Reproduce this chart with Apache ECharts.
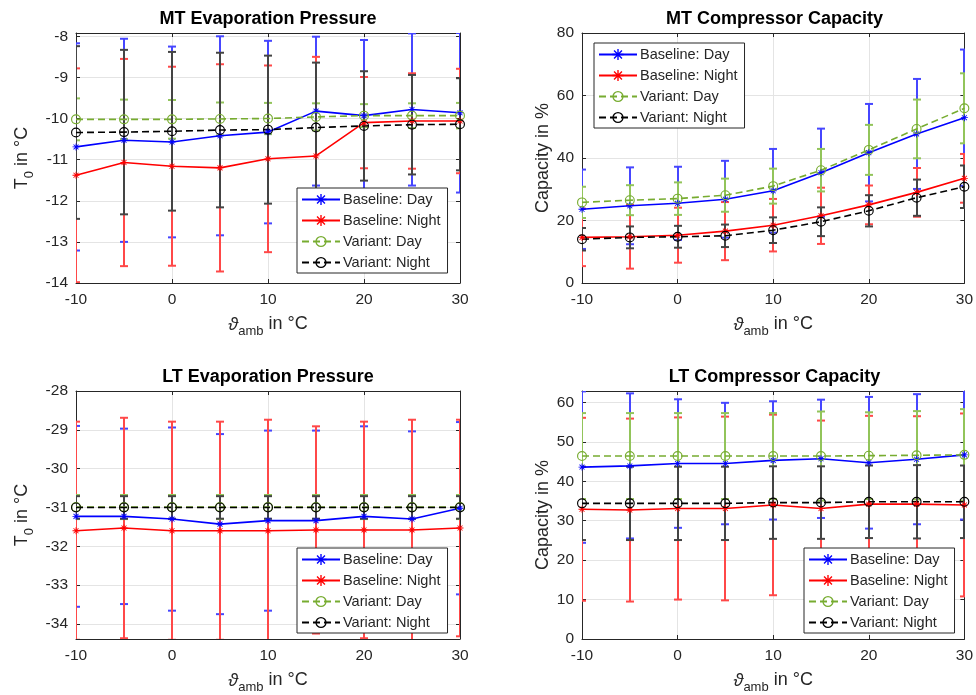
<!DOCTYPE html>
<html>
<head>
<meta charset="utf-8">
<script src="https://cdn.jsdelivr.net/npm/echarts@6.0.0/dist/echarts.min.js"></script>
<style>
  html, body { margin: 0; padding: 0; background: #fff; }
  #chart { width: 976px; height: 695px; }
</style>
</head>
<body>
<div id="chart"></div>
<script>
// Ambient temperature steps (x values, °C)
const ambientTemps = [-10, -5, 0, 5, 10, 15, 20, 25, 30];

// MT evaporation temperature T0 (°C): mean and symmetric error half-width
const mtEvapBaseDay      = [-10.69, -10.53, -10.57, -10.42, -10.33, -9.82, -9.93, -9.78, -9.86];
const mtEvapBaseDayErr   = [2.52, 2.47, 2.32, 2.42, 2.22, 1.81, 1.84, 1.85, 1.94];
const mtEvapBaseNight    = [-11.38, -11.07, -11.16, -11.20, -10.98, -10.91, -10.10, -10.06, -10.06];
const mtEvapBaseNightErr = [2.60, 2.52, 2.42, 2.52, 2.27, 2.41, 1.11, 1.16, 1.27];
const mtEvapVarDay       = [-10.02, -10.02, -10.02, -10.01, -10.00, -9.96, -9.93, -9.93, -9.93];
const mtEvapVarDayErr    = [0.51, 0.48, 0.47, 0.40, 0.38, 0.33, 0.28, 0.30, 0.31];
const mtEvapVarNight     = [-10.34, -10.33, -10.31, -10.28, -10.27, -10.22, -10.18, -10.15, -10.14];
const mtEvapVarNightErr  = [2.10, 2.00, 1.93, 1.88, 1.80, 1.58, 1.33, 1.21, 1.12];

// MT compressor capacity (%)
const mtCapBaseDay       = [23.6, 24.7, 25.5, 26.8, 29.5, 35.3, 41.7, 47.7, 52.9];
const mtCapBaseDayErr    = [12.7, 12.3, 11.7, 12.3, 13.4, 14.1, 15.6, 17.6, 21.8];
const mtCapBaseNight     = [14.6, 14.8, 15.3, 16.6, 18.5, 21.5, 25.0, 29.0, 33.5];
const mtCapBaseNightErr  = [9.2, 10.2, 8.8, 9.3, 8.4, 9.0, 6.2, 7.8, 7.8];
const mtCapVarDay        = [25.8, 26.5, 27.0, 28.1, 31.0, 36.1, 42.6, 49.3, 55.9];
const mtCapVarDayErr     = [5.0, 4.8, 5.2, 5.3, 5.6, 6.8, 8.0, 9.4, 11.2];
const mtCapVarNight      = [14.0, 14.6, 14.8, 15.1, 16.9, 19.6, 23.1, 27.3, 30.8];
const mtCapVarNightErr   = [3.6, 3.5, 3.5, 3.6, 4.1, 4.6, 5.0, 5.8, 6.8];

// LT evaporation temperature T0 (°C)
const ltEvapBaseDay      = [-31.23, -31.23, -31.30, -31.43, -31.34, -31.34, -31.23, -31.30, -31.02];
const ltEvapBaseDayErr   = [2.33, 2.26, 2.36, 2.32, 2.32, 2.32, 2.32, 2.26, 2.22];
const ltEvapBaseNight    = [-31.60, -31.53, -31.60, -31.60, -31.60, -31.58, -31.58, -31.58, -31.53];
const ltEvapBaseNightErr = [2.81, 2.84, 2.81, 2.81, 2.86, 2.67, 2.79, 2.84, 2.79];
const ltEvapVarDay       = [-30.99, -30.99, -30.99, -30.99, -30.99, -30.99, -30.99, -30.99, -30.99];
const ltEvapVarDayErr    = [0.31, 0.31, 0.31, 0.31, 0.31, 0.31, 0.31, 0.31, 0.31];
const ltEvapVarNight     = [-31.00, -31.00, -31.00, -31.00, -31.00, -31.00, -31.00, -31.00, -31.00];
const ltEvapVarNightErr  = [0.29, 0.29, 0.29, 0.29, 0.29, 0.29, 0.29, 0.29, 0.29];

// LT compressor capacity (%)
const ltCapBaseDay       = [43.6, 43.9, 44.5, 44.5, 45.3, 45.7, 44.7, 45.6, 46.7];
const ltCapBaseDayErr    = [19.2, 18.4, 16.3, 15.4, 15.0, 15.0, 16.7, 16.5, 16.4];
const ltCapBaseNight     = [32.9, 32.7, 33.1, 33.1, 34.0, 33.1, 34.2, 34.2, 34.0];
const ltCapBaseNightErr  = [23.2, 23.2, 23.1, 23.3, 22.9, 22.3, 22.4, 22.3, 23.2];
const ltCapVarDay        = [46.4, 46.4, 46.4, 46.4, 46.4, 46.4, 46.5, 46.6, 46.7];
const ltCapVarDayErr     = [10.9, 10.9, 10.9, 10.9, 10.9, 11.3, 11.0, 11.2, 11.6];
const ltCapVarNight      = [34.4, 34.4, 34.4, 34.4, 34.6, 34.6, 34.8, 34.8, 34.8];
const ltCapVarNightErr   = [9.3, 9.3, 9.3, 9.3, 9.2, 9.2, 9.2, 9.3, 9.2];

// Series names shown in every legend
const seriesNames = ['Baseline: Day', 'Baseline: Night', 'Variant: Day', 'Variant: Night'];

// Panel titles and axis labels
const panelTitles = ['MT Evaporation Pressure', 'MT Compressor Capacity', 'LT Evaporation Pressure', 'LT Compressor Capacity'];
const xAxisTitle = '{i|ϑ}{s|amb}{m| in °C}';
const tempAxisTitle = '{m|T}{s|0}{m| in °C}';
const capAxisTitle = '{m|Capacity in %}';

// ---------------- styling / layout ----------------
const FONT = '"Liberation Sans", Arial, Helvetica, sans-serif';
const AXIS_COLOR = '#262626';
const GRID_COLOR = '#e4e4e4';

// MATLAB-like '*' and 'o' markers
const STAR = 'path://M-0.6,-5L0.6,-5L0.6,5L-0.6,5Z M-5,-0.6L5,-0.6L5,0.6L-5,0.6Z M-3.96,-3.11L-3.11,-3.96L3.96,3.11L3.11,3.96Z M3.11,-3.96L3.96,-3.11L-3.11,3.96L-3.96,3.11Z';
const RING = 'path://M0,-5A5,5,0,1,1,0,5A5,5,0,1,1,0,-5Z M0,-3.85A3.85,3.85,0,1,0,0,3.85A3.85,3.85,0,1,0,0,-3.85Z';

const seriesLook = [
  { color: '#0000ff', bar: '#4646ff', dash: 'solid', symbol: STAR, size: 7 },
  { color: '#ff0000', bar: '#ff4848', dash: 'solid', symbol: STAR, size: 7 },
  { color: '#77ac30', bar: '#92c45a', dash: [7, 4],  symbol: RING, size: 10 },
  { color: '#000000', bar: '#444444', dash: [7, 4],  symbol: RING, size: 10 }
];

const panels = [
  { grid: { left: 76,  top: 33,  width: 384, height: 250 }, y: { min: -14, max: -7.92, step: 1 },
    yName: tempAxisTitle, yGap: 40, legend: { left: 297, top: 188 },
    data: [[mtEvapBaseDay, mtEvapBaseDayErr], [mtEvapBaseNight, mtEvapBaseNightErr], [mtEvapVarDay, mtEvapVarDayErr], [mtEvapVarNight, mtEvapVarNightErr]] },
  { grid: { left: 582, top: 33,  width: 385, height: 250 }, y: { min: 0, max: 80, step: 20 },
    yName: capAxisTitle, yGap: 25, legend: { left: 594, top: 43 },
    data: [[mtCapBaseDay, mtCapBaseDayErr], [mtCapBaseNight, mtCapBaseNightErr], [mtCapVarDay, mtCapVarDayErr], [mtCapVarNight, mtCapVarNightErr]] },
  { grid: { left: 76,  top: 391, width: 384, height: 250 }, y: { min: -34.39, max: -28, step: 1 },
    yName: tempAxisTitle, yGap: 40, legend: { left: 297, top: 548 },
    data: [[ltEvapBaseDay, ltEvapBaseDayErr], [ltEvapBaseNight, ltEvapBaseNightErr], [ltEvapVarDay, ltEvapVarDayErr], [ltEvapVarNight, ltEvapVarNightErr]] },
  { grid: { left: 582, top: 391, width: 385, height: 250 }, y: { min: 0, max: 62.9, step: 10 },
    yName: capAxisTitle, yGap: 25, legend: { left: 804, top: 548 },
    data: [[ltCapBaseDay, ltCapBaseDayErr], [ltCapBaseNight, ltCapBaseNightErr], [ltCapVarDay, ltCapVarDayErr], [ltCapVarNight, ltCapVarNightErr]] }
];

const nameRich = {
  m: { fontFamily: FONT, fontSize: 18, color: AXIS_COLOR, lineHeight: 27 },
  i: { fontFamily: FONT, fontSize: 18, color: AXIS_COLOR, fontStyle: 'italic', lineHeight: 27 },
  s: { fontFamily: FONT, fontSize: 13, color: AXIS_COLOR, verticalAlign: 'bottom', lineHeight: 27 }
};

function onStep(step) {
  return function (v) {
    const k = Math.round(v / step);
    return Math.abs(v - k * step) < 1e-6 ? String(k * step) : '';
  };
}

// vertical error bar with caps, drawn in data coordinates (snapped to whole pixels)
function errorBarRenderer(stroke) {
  return function (params, api) {
    const x = api.value(0);
    const lo = api.coord([x, api.value(1)]);
    const hi = api.coord([x, api.value(2)]);
    const cx = Math.round(lo[0]);
    const w = 4;
    const style = { stroke: stroke, lineWidth: 2, fill: null };
    return {
      type: 'group',
      children: [
        { type: 'line', shape: { x1: cx, y1: lo[1], x2: cx, y2: hi[1] }, style: style },
        { type: 'line', shape: { x1: cx - w, y1: lo[1], x2: cx + w, y2: lo[1] }, style: style },
        { type: 'line', shape: { x1: cx - w, y1: hi[1], x2: cx + w, y2: hi[1] }, style: style }
      ]
    };
  };
}

const option = {
  animation: false,
  backgroundColor: '#ffffff',
  textStyle: { fontFamily: FONT },
  title: [], grid: [], xAxis: [], yAxis: [], legend: [], series: []
};

panels.forEach(function (p, i) {
  const g = p.grid;
  option.grid.push(Object.assign({ show: false }, g));
  option.title.push({
    text: panelTitles[i], left: g.left + g.width / 2, top: g.top - 23, textAlign: 'center', padding: 0,
    textStyle: { fontFamily: FONT, fontSize: 18, fontWeight: 'bold', color: '#000' }
  });

  const axisLine = { onZero: false, lineStyle: { color: AXIS_COLOR, width: 1 } };
  const tick = { inside: true, length: 4, lineStyle: { color: AXIS_COLOR } };
  const xb = i * 2;

  option.xAxis.push({
    gridIndex: i, type: 'value', position: 'bottom', min: -10, max: 30, interval: 10,
    axisLine: axisLine, axisTick: tick,
    axisLabel: { color: AXIS_COLOR, fontSize: 15.5, fontFamily: FONT, margin: 9 },
    splitLine: { show: true, lineStyle: { color: GRID_COLOR, width: 1 } },
    name: xAxisTitle, nameLocation: 'middle', nameGap: 28,
    nameTextStyle: { rich: nameRich }
  });
  option.xAxis.push({
    gridIndex: i, type: 'value', position: 'top', min: -10, max: 30, interval: 10,
    axisLine: axisLine, axisTick: tick, axisLabel: { show: false }, splitLine: { show: false }
  });

  const yCommon = {
    gridIndex: i, type: 'value', min: p.y.min, max: p.y.max,
    minInterval: p.y.step, maxInterval: p.y.step, splitNumber: 7,
    axisLine: axisLine, axisTick: tick
  };
  option.yAxis.push(Object.assign({}, yCommon, {
    position: 'left',
    axisLabel: { color: AXIS_COLOR, fontSize: 15.5, fontFamily: FONT, margin: 8, formatter: onStep(p.y.step) },
    splitLine: { show: true, lineStyle: { color: GRID_COLOR, width: 1 } },
    name: p.yName, nameLocation: 'middle', nameGap: p.yGap, nameRotate: 90,
    nameTextStyle: { rich: nameRich }
  }));
  option.yAxis.push(Object.assign({}, yCommon, {
    position: 'right', axisLabel: { show: false }, splitLine: { show: false }
  }));

  option.legend.push({
    left: p.legend.left, top: p.legend.top, orient: 'vertical',
    data: seriesNames, itemWidth: 38, itemHeight: 14, itemGap: 6,
    padding: [4, 7, 3, 4], backgroundColor: '#ffffff',
    borderColor: AXIS_COLOR, borderWidth: 1, borderRadius: 0,
    textStyle: { fontFamily: FONT, fontSize: 14.5, color: AXIS_COLOR, padding: [0, 0, 0, -2] },
    selectedMode: false, z: 10
  });

  p.data.forEach(function (pair, s) {
    const look = seriesLook[s];
    const mean = pair[0], err = pair[1];
    option.series.push({
      type: 'custom', name: seriesNames[s] + ' range',
      xAxisIndex: xb, yAxisIndex: xb, clip: true, silent: true,
      encode: { x: 0, y: [1, 2] },
      data: ambientTemps.map(function (t, k) { return [t, mean[k] - err[k], mean[k] + err[k]]; }),
      renderItem: errorBarRenderer(look.bar)
    });
    option.series.push({
      type: 'line', name: seriesNames[s],
      xAxisIndex: xb, yAxisIndex: xb, clip: true, silent: true,
      data: ambientTemps.map(function (t, k) { return [t, mean[k]]; }),
      symbol: look.symbol, symbolSize: look.size, showSymbol: true,
      lineStyle: { color: look.color, width: 1.6, type: look.dash },
      itemStyle: { color: look.color },
      emphasis: { disabled: true }
    });
  });
});

const chart = echarts.init(document.getElementById('chart'), null, { renderer: 'canvas' });
chart.setOption(option);
</script>
</body>
</html>
